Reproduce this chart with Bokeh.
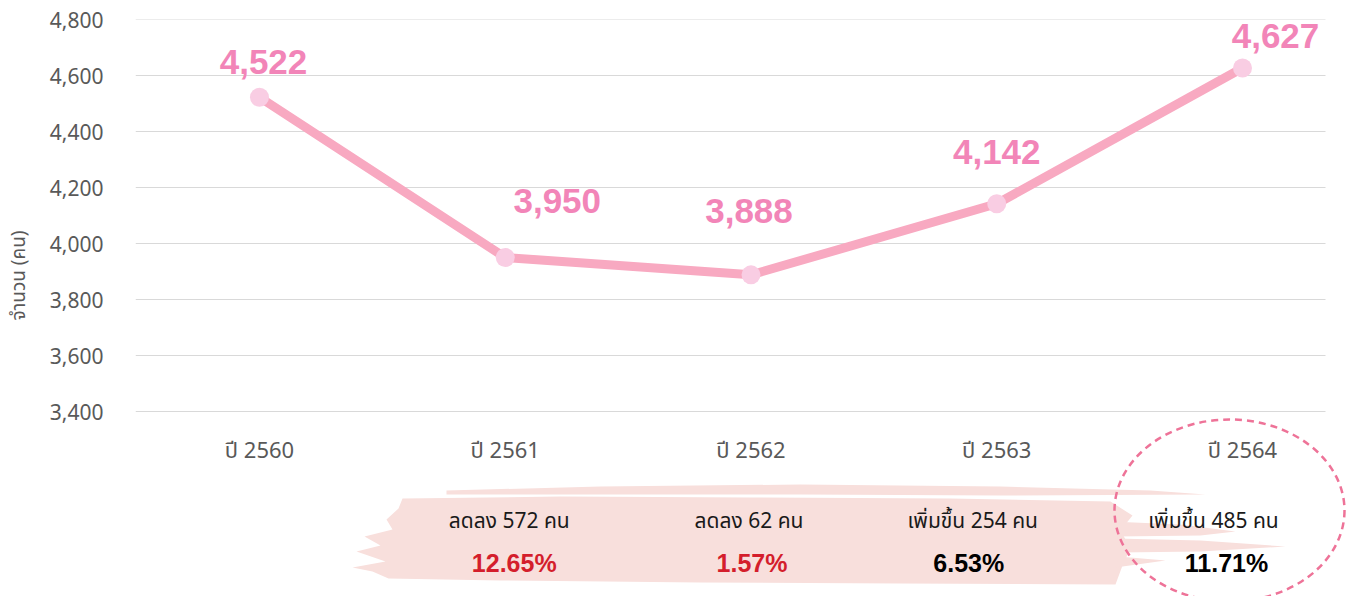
from bokeh.plotting import figure
from bokeh.layouts import row
from bokeh.models import Range1d, FixedTicker, NumeralTickFormatter, ColumnDataSource
from bokeh.core.properties import value
from bokeh.embed import file_html
from bokeh.resources import INLINE

# ---- data ----
years = ["ปี 2560", "ปี 2561", "ปี 2562", "ปี 2563", "ปี 2564"]
counts = [4522, 3950, 3888, 4142, 4627]
count_labels = ["4,522", "3,950", "3,888", "4,142", "4,627"]
y_ticks = [3400, 3600, 3800, 4000, 4200, 4400, 4600, 4800]
change_text = ["ลดลง 572 คน", "ลดลง 62 คน", "เพิ่มขึ้น 254 คน", "เพิ่มขึ้น 485 คน"]
change_pct = ["12.65%", "1.57%", "6.53%", "11.71%"]
change_up = [False, False, True, True]
y_title = "จำนวน (คน)"

THAI = "Noto Sans Thai, Tahoma, Noto Sans, sans-serif"
ARIAL = "Liberation Sans"

# ---- geometry (layout only) ----
PX_X = 245.75          # px per category
PX_Y = 0.28            # px per unit
X0 = 259               # screen px of first category
Y_TOP = 4800
SCR_TOP = 19
LW = 44                # width of the left title strip

def dx(px):
    return (px - X0) / PX_X

def dy(py):
    return Y_TOP - (py - SCR_TOP) / PX_Y

W, H = 1355, 596
yr = Range1d(dy(H), Y_TOP)
p = figure(width=W - LW, height=H, output_backend="svg", toolbar_location=None,
           x_range=Range1d(dx(135), dx(W)), y_range=yr,
           min_border_left=135 - LW, min_border_right=0, min_border_top=SCR_TOP, min_border_bottom=0)
p.outline_line_color = None
p.xgrid.visible = False
p.ygrid.visible = False
p.xaxis.visible = False

ya = p.yaxis[0]
ya.ticker = FixedTicker(ticks=y_ticks)
ya.formatter = NumeralTickFormatter(format="0,0")
ya.axis_line_color = None
ya.major_tick_line_color = None
ya.minor_tick_line_color = None
ya.major_tick_out = 0
ya.major_tick_in = 0
ya.major_label_standoff = 32
ya.major_label_text_font = THAI
ya.major_label_text_font_size = "21px"
ya.major_label_text_color = "#595959"

# gridlines (tick-driven)
gx0, gx1 = dx(135), dx(1325)
p.segment(x0=[gx0] * len(y_ticks), x1=[gx1] * len(y_ticks), y0=y_ticks, y1=y_ticks,
          line_color="#D9D9D9", line_width=1)

# ---- brush stroke background (decoration) ----
def poly(pts):
    return [dx(a) for a, b in pts], [dy(b) for a, b in pts]

body = [(402, 498), (560, 496), (750, 497), (950, 498), (1110, 501), (1132, 515), (1120, 530),
        (1130, 548), (1122, 565), (1115, 584), (900, 583), (700, 582), (500, 580), (388, 578),
        (372, 571), (352, 567), (385, 561), (356, 551), (380, 545), (364, 536), (392, 529),
        (386, 519), (398, 508)]
top = [(446, 490), (600, 486), (800, 484), (1000, 486), (1150, 490), (1205, 494), (1000, 495),
       (800, 494), (600, 494), (446, 494)]
right1 = [(1110, 521), (1180, 524), (1235, 531), (1200, 535), (1115, 536)]
right2 = [(1115, 538), (1200, 540), (1285, 546), (1200, 551), (1118, 552)]
right3 = [(1118, 556), (1165, 560), (1115, 567)]
xs, ys = [], []
for shape in (body, top, right1, right2, right3):
    a, b = poly(shape)
    xs.append(a)
    ys.append(b)
p.patches(xs, ys, fill_color="#F8DFDC", line_color=None)

# ---- line + markers ----
xi = list(range(len(years)))
p.line(xi, counts, line_color="#F8A9C1", line_width=9)
p.scatter(xi, counts, size=19, fill_color="#F9CDE3", line_color=None)

# value labels
lab_dx = [4, 52, -2, 0, 33]
lab_dy = [-35, -57, -64, -52, -32]
src = ColumnDataSource(dict(x=xi, y=counts, t=count_labels, xo=lab_dx, yo=lab_dy))
p.text(x="x", y="y", text="t", x_offset="xo", y_offset="yo", source=src,
       text_font=value(ARIAL), text_font_style="bold", text_font_size="35px",
       text_color="#F285B8", text_align="center", text_baseline="middle")

# category labels
p.text(x=xi, y=[dy(451)] * len(xi), text=years, text_font=value(THAI),
       text_font_size="22px", text_color="#595959", text_align="center", text_baseline="middle")

# change annotations
ci = list(range(1, len(years)))
row1_off = [4, -2, -24, -29]
row2_off = [9, 1, -28, -16]
p.text(x=ci, y=[dy(521)] * len(ci), text=change_text, x_offset=row1_off,
       text_font=value(THAI), text_font_size="21px", text_color="#1A1A1A",
       text_align="center", text_baseline="middle")
pct_colors = ["#000000" if up else "#D41E2C" for up in change_up]
p.text(x=ci, y=[dy(562)] * len(ci), text=change_pct, x_offset=row2_off,
       text_font=value(ARIAL), text_font_style="bold", text_font_size="25px",
       text_color=pct_colors, text_align="center", text_baseline="middle")

# dashed ellipse around last year
p.ellipse(x=[dx(1229)], y=[dy(510)], width=[230 / PX_X], height=[182 / PX_Y],
          fill_color=None, line_color="#EE7398", line_width=2.5, line_dash="7 5")

# ---- left strip holding the rotated y-axis title ----
t = figure(width=LW, height=H, output_backend="svg", toolbar_location=None,
           x_range=Range1d(0, LW), y_range=yr,
           min_border_left=0, min_border_right=0, min_border_top=SCR_TOP, min_border_bottom=0)
t.outline_line_color = None
t.axis.visible = False
t.grid.visible = False
t.text(x=[19], y=[dy(275)], text=[y_title], angle=1.5708, text_font=value(THAI),
       text_font_size="19px", text_color="#595959", text_align="center", text_baseline="middle")

layout = row(t, p, spacing=0)
open("out.html", "w").write(file_html(layout, INLINE))
